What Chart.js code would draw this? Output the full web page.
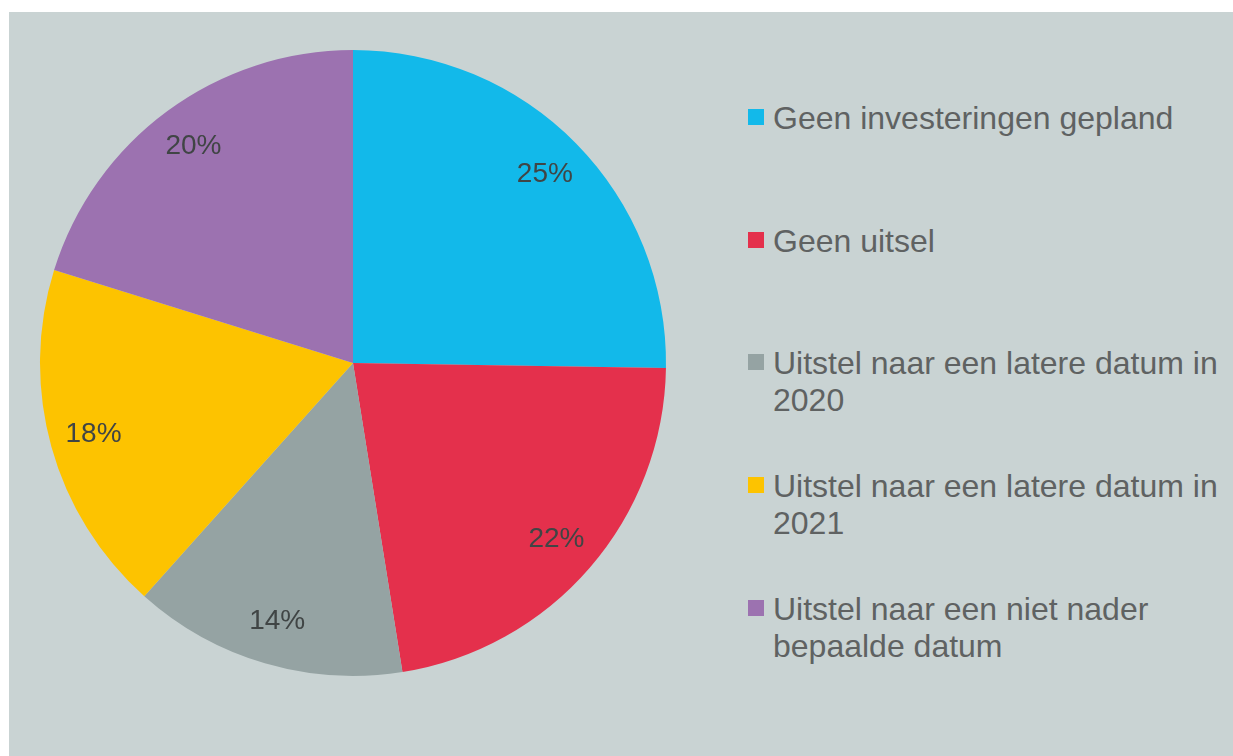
<!DOCTYPE html>
<html>
<head>
<meta charset="utf-8">
<script src="https://cdn.jsdelivr.net/npm/chart.js@4.4.0/dist/chart.umd.min.js"></script>
<style>
  html, body { margin: 0; padding: 0; background: #ffffff; }
  body { width: 1233px; height: 756px; position: relative; overflow: hidden; font-family: "Liberation Sans", Arial, sans-serif; }
  #panel { position: absolute; left: 9px; top: 12px; right: 0; bottom: 0; background: #c9d3d3; }
  #pie-wrap { position: absolute; left: 33px; top: 43px; width: 640px; height: 640px; }
  #legend { position: absolute; left: 748px; top: 0; }
  .item { position: absolute; left: 0; width: 480px; }
  .box { position: absolute; left: 0; width: 16px; height: 16px; }
  .txt { position: absolute; left: 25px; font-size: 32px; line-height: 37px; color: #5f6262; white-space: nowrap; }
</style>
</head>
<body>
<div id="panel"></div>
<div id="pie-wrap"><canvas id="pie" width="640" height="640"></canvas></div>
<div id="legend"></div>
<script>
const categories = [
  ['Geen investeringen gepland'],
  ['Geen uitsel'],
  ['Uitstel naar een latere datum in', '2020'],
  ['Uitstel naar een latere datum in', '2021'],
  ['Uitstel naar een niet nader', 'bepaalde datum']
];
const shares = [25, 22, 14, 18, 20];
const sliceColors = ['#12b9ea', '#e4304c', '#95a3a3', '#fdc300', '#9c72b0'];

// percent labels inside the slices
const pctLabels = {
  id: 'pctLabels',
  afterDatasetsDraw(chart) {
    const ctx = chart.ctx;
    const meta = chart.getDatasetMeta(0);
    ctx.save();
    ctx.font = '28px "Liberation Sans", Arial, sans-serif';
    ctx.fillStyle = '#404545';
    ctx.textAlign = 'center';
    ctx.textBaseline = 'middle';
    meta.data.forEach((arc, i) => {
      const p = arc.getProps(['x', 'y', 'startAngle', 'endAngle', 'outerRadius'], true);
      const mid = (p.startAngle + p.endAngle) / 2;
      const r = p.outerRadius * 0.86;
      ctx.fillText(shares[i] + '%', p.x + Math.cos(mid) * r, p.y + Math.sin(mid) * r);
    });
    ctx.restore();
  }
};

new Chart(document.getElementById('pie'), {
  type: 'pie',
  data: {
    labels: categories.map(c => c.join(' ')),
    datasets: [{ data: shares, backgroundColor: sliceColors, borderWidth: 0 }]
  },
  options: {
    responsive: false,
    animation: false,
    layout: { padding: 7 },
    plugins: { legend: { display: false }, tooltip: { enabled: false } }
  },
  plugins: [pctLabels]
});

// legend on the right
const legendTops = [118, 241, 363, 486, 609];
const legend = document.getElementById('legend');
categories.forEach((lines, i) => {
  const item = document.createElement('div');
  item.className = 'item';
  item.style.top = (legendTops[i] - 18) + 'px';
  const box = document.createElement('div');
  box.className = 'box';
  box.style.top = '9px';
  box.style.background = sliceColors[i];
  const txt = document.createElement('div');
  txt.className = 'txt';
  txt.style.top = '0px';
  txt.innerHTML = lines.join('<br>');
  item.appendChild(box);
  item.appendChild(txt);
  legend.appendChild(item);
});
</script>
</body>
</html>
